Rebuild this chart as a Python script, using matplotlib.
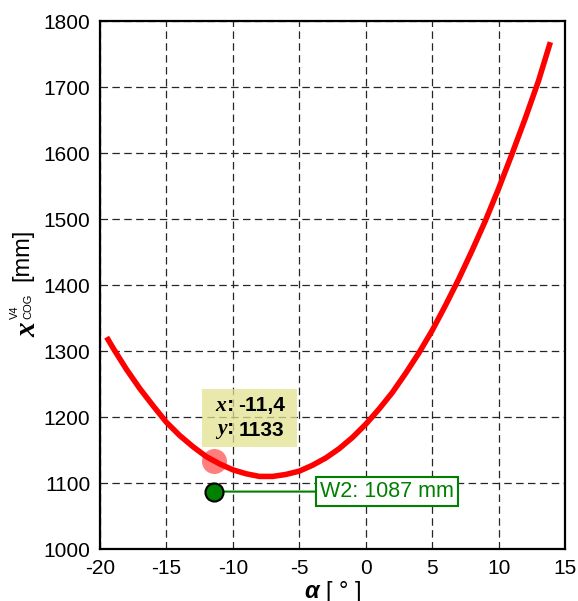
import matplotlib
matplotlib.use('Agg')
import matplotlib.pyplot as plt
from matplotlib.patches import Rectangle

plt.rcParams['font.family'] = ['Liberation Sans', 'DejaVu Sans']
plt.rcParams['axes.unicode_minus'] = False
plt.rcParams['mathtext.fontset'] = 'custom'
plt.rcParams['mathtext.rm'] = 'Liberation Sans'
plt.rcParams['mathtext.sf'] = 'Liberation Sans'
plt.rcParams['mathtext.it'] = 'Liberation Serif:italic'
plt.rcParams['mathtext.bf'] = 'Liberation Sans:italic:bold'
plt.rcParams['mathtext.bfit'] = 'Liberation Serif:italic:bold'

# x_COG over alpha, one value per degree
alpha = [-19.5, -19, -18, -17, -16, -15, -14, -13, -12, -11, -10, -9, -8, -7,
         -6, -5, -4, -3, -2, -1, 0, 1, 2, 3, 4, 5, 6, 7, 8, 9, 10, 11, 12, 13,
         13.9]
x_cog = [1321, 1304, 1272, 1243, 1217, 1192, 1172, 1155, 1140, 1129, 1120,
         1114, 1110, 1110, 1113, 1118, 1127, 1138, 1152, 1169, 1189, 1212,
         1237, 1266, 1297, 1331, 1369, 1409, 1452, 1497, 1546, 1598, 1652,
         1709, 1768]

cursor_x = -11.4
cursor_y = 1133
w2_y = 1087

W, H = 578, 601
fig = plt.figure(figsize=(W / 100, H / 100), dpi=100)
ax = fig.add_axes([0.173, 0.0865, 0.8045, 0.8785])

ax.plot(alpha, x_cog, color='red', lw=4, solid_capstyle='butt', zorder=3)

# data cursor
ax.plot(cursor_x, cursor_y, 'o', ms=18, color='red', alpha=0.5, mec='none', zorder=4)
ax.add_patch(Rectangle((-12.3, 1154), 7.15, 88, facecolor='#e2e28f', alpha=0.75,
                       edgecolor='none', zorder=5))
ax.text(-9.95, 1218, r'$\mathbfit{x}$:', ha='right', va='center', fontsize=15.5,
        fontweight='bold', zorder=6)
ax.text(-9.95, 1180, r'$\mathbfit{y}$:', ha='right', va='center', fontsize=15.5,
        fontweight='bold', zorder=6)
ax.text(-9.6, 1218, str(cursor_x).replace('.', ','), ha='left', va='center',
        fontsize=15, fontweight='bold', zorder=6)
ax.text(-9.6, 1180, str(cursor_y), ha='left', va='center', fontsize=15,
        fontweight='bold', zorder=6)

# W2 marker
ax.annotate('W2: %d mm' % w2_y, xy=(cursor_x, w2_y), xytext=(-3.45, w2_y),
            ha='left', va='center', fontsize=15.5, color='green',
            bbox=dict(boxstyle='square,pad=0.2', fc='white', ec='green', lw=1.5),
            arrowprops=dict(arrowstyle='-', color='green', lw=1.5,
                            shrinkA=0, shrinkB=0), zorder=6)
ax.plot(cursor_x, w2_y, 'o', ms=13, color='green', mec='black', mew=1.5, zorder=7)

ax.set_xlim(-20, 15)
ax.set_ylim(1000, 1800)
ax.set_xticks(range(-20, 16, 5))
ax.set_yticks(range(1000, 1801, 100))
ax.grid(True, color='0.15', ls=(0, (6, 3.5)), lw=0.9)
ax.set_axisbelow(True)
ax.tick_params(direction='in', length=0, labelsize=15, pad=7)
for s in ax.spines.values():
    s.set_linewidth(1.6)

ax.set_xlabel(r'$\mathbf{\alpha}$ [ ° ]', fontsize=17, labelpad=1)

# y label pieces: x with small super/subscript, then unit
fig.text(27 / W, 1 - 329 / H, r'$\mathbfit{x}$', rotation=90, fontsize=21,
         ha='center', va='center')
fig.text(15 / W, 1 - 312 / H, 'V4', rotation=90, fontsize=8,
         ha='center', va='center')
fig.text(28 / W, 1 - 306 / H, 'COG', rotation=90, fontsize=8,
         ha='center', va='center')
fig.text(22 / W, 1 - 255 / H, '[mm]', rotation=90, fontsize=17,
         ha='center', va='center')

fig.savefig('out.png', dpi=100)
